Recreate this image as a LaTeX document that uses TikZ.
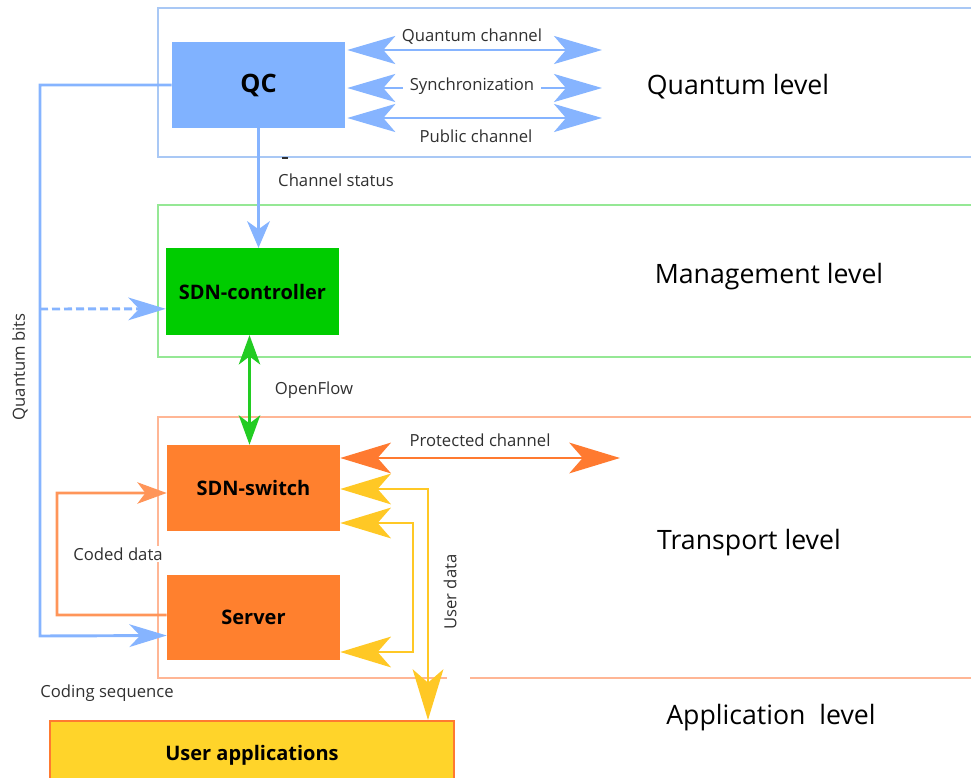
\documentclass[tikz,border=0pt]{standalone}
\usepackage{fontspec}
\setmainfont{Open Sans}
\usetikzlibrary{arrows.meta}
\definecolor{qblue}{HTML}{80B2FF}
\definecolor{qline}{HTML}{86B4FF}
\definecolor{qframe}{HTML}{A9C8F5}
\definecolor{mframe}{HTML}{95E895}
\definecolor{tframe}{HTML}{FFB695}
\definecolor{sgreen}{HTML}{00CC00}
\definecolor{gline}{HTML}{22CC22}
\definecolor{sorange}{HTML}{FF802E}
\definecolor{oline}{HTML}{FF7A30}
\definecolor{yfill}{HTML}{FFD42A}
\definecolor{yline}{HTML}{FFC825}
\definecolor{lbl}{HTML}{303030}
\tikzset{
  frame/.style={line width=1.3pt},
  blk/.style={draw=none, minimum width=129.75pt, inner sep=0pt, font=\fontsize{15}{17}\selectfont\bfseries},
  small/.style={font=\fontsize{12.5}{14}\selectfont, text=lbl, inner sep=1pt},
  lvl/.style={font=\fontsize{20}{23}\selectfont, inner sep=0pt},
  tipBig/.tip={Stealth[length=36pt, width=21pt, inset=9pt]},
  tipMid/.tip={Stealth[length=28pt, width=17pt, inset=8pt]},
  tipSm/.tip={Stealth[length=22pt, width=16pt, inset=6pt]},
  tipY/.tip={Stealth[length=38pt, width=23pt, inset=10pt]},
  tipCs/.tip={Stealth[length=20pt, width=17pt, inset=6pt]},
  bl/.style={draw=qline, line width=2.2pt},
  gl/.style={draw=gline, line width=2.2pt},
  ol/.style={draw=oline, line width=2.2pt},
  yl/.style={draw=yline, line width=2.2pt},
}
\begin{document}
\begin{tikzpicture}[x=0.75pt, y=-0.75pt]
\useasboundingbox (0,0) rectangle (971,778);
% level frames
\draw[frame, draw=qframe] (975,8) -- (158,8) -- (158,157) -- (975,157);
\draw[frame, draw=mframe] (975,205) -- (158,205) -- (158,357) -- (975,357);
\draw[frame, draw=tframe] (975,417) -- (158,417) -- (158,678) -- (447,678);
\draw[frame, draw=tframe] (470,678) -- (975,678);
% level labels
\node[lvl] (lq) at (738,87) {Quantum level};
\node[lvl] (lm) at (769,277) {Management level};
\node[lvl] (lt) at (749,543) {Transport level};
\node[lvl] (la) at (771,718) {Application\ \ level};
% blocks
\node[blk, fill=qblue, minimum height=64.5pt, font=\fontsize{19}{21}\selectfont\bfseries] (qc) at (258.5,85) {QC};
\node[blk, fill=sgreen, minimum height=65pt] (ctl) at (252.5,291.5) {SDN-controller};
\node[blk, fill=sorange, minimum height=64.5pt] (sw) at (253.5,488) {SDN-switch};
\node[blk, fill=sorange, minimum height=64pt] (srv) at (253.5,617.5) {Server};
\node[blk, fill=yfill, draw=oline, line width=1.5pt, minimum width=303pt, minimum height=51pt] (ua) at (252,755) {User applications};
% quantum channels
\coordinate (qr1) at (602,50);
\coordinate (qr2) at (602,88);
\coordinate (qr3) at (602,118);
\draw[bl, tipBig-tipBig] ([yshift=26.25pt]qc.east) ++(2,0) -- (qr1);
\draw[bl, tipBig-tipBig] ([yshift=-2.25pt]qc.east) ++(2,0) -- (qr2);
\draw[bl, tipBig-tipBig] ([yshift=-24.75pt]qc.east) ++(2,0) -- (qr3);
\node[small, fill=white] (tq) at (472,37) {Quantum channel};
\node[small, fill=white, inner xsep=5pt] (ts) at (472,86) {Synchronization};
\node[small] (tp) at (476,136) {Public channel};
% channel status
\draw[bl, -tipCs] (qc.south) -- (qc.south |- ctl.north);
\draw[draw=lbl, line width=1pt] (282,158) -- (288,158);
\node[small] (tcs) at (336,180) {Channel status};
% quantum bits
\coordinate (qb1) at (40,85);
\coordinate (qb2) at (40,636);
\coordinate (qb3) at (40,309);
\draw[bl, -tipMid] (qc.west) -- (qb1) -- (qb2) -- ([yshift=-13.5pt]srv.west);
\draw[bl, dashed, dash pattern=on 6pt off 3pt, -tipMid] (qb3) -- ([yshift=-13pt]ctl.west);
\node[small, rotate=90] (tqb) at (20,367) {Quantum bits};
% openflow
\draw[gl, tipSm-tipSm] (ctl.south) ++(-3,0) -- ([xshift=-3pt]sw.north);
\node[small] (tof) at (314,390) {OpenFlow};
% protected channel
\coordinate (pc) at (620,458);
\draw[ol, tipY-tipY] (sw.east |- pc) -- (pc);
\node[small] (tpc) at (480,440) {Protected channel};
% coded data
\coordinate (cd1) at (57,615);
\coordinate (cd2) at (57,493);
\draw[draw=oline!80, line width=2pt, -tipSm] ([yshift=1.9pt]srv.west) -- (cd1) -- (cd2) -- ([yshift=-3.75pt]sw.west);
\node[small, fill=white] (tcd) at (118,554) {Coded data};
% user data
\coordinate (ud1) at (428,489);
\coordinate (ud2) at (413,523);
\coordinate (ud3) at (413,652);
\draw[yl, tipY-tipY] (sw.east |- ud1) -- (ud1) -- (ud1 |- ua.north);
\draw[yl, tipY-tipY] (sw.east |- ud2) -- (ud2) -- (ud3) -- (srv.east |- ud3);
\node[small, rotate=90] (tud) at (450,592) {User data};
% coding sequence
\node[small] (tcsq) at (107,693) {Coding sequence};
\end{tikzpicture}
\end{document}
